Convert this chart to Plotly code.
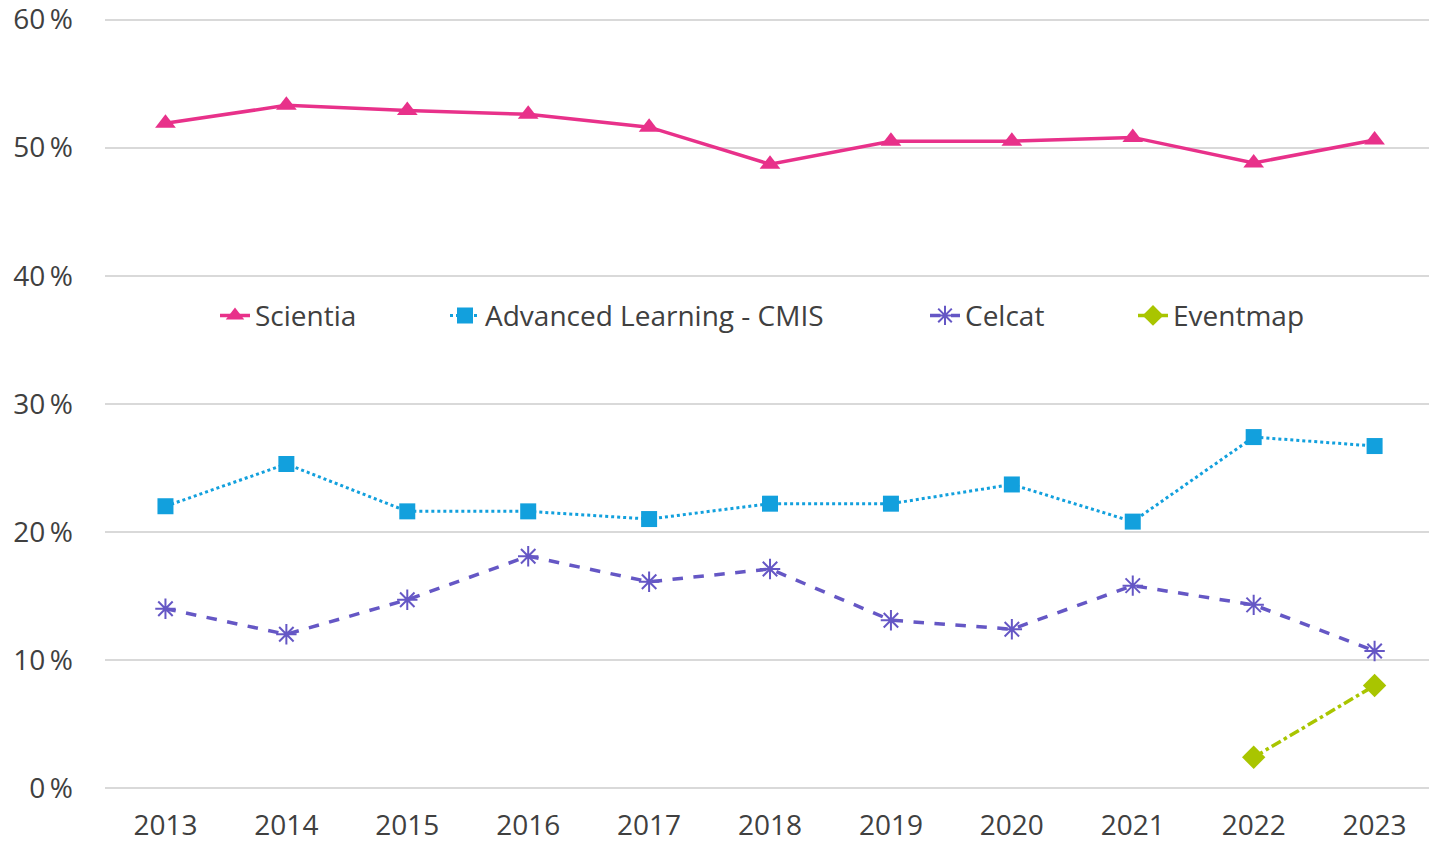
import plotly.graph_objects as go

years = ["2013", "2014", "2015", "2016", "2017", "2018", "2019", "2020", "2021", "2022", "2023"]
scientia = [51.9, 53.3, 52.9, 52.6, 51.6, 48.7, 50.5, 50.5, 50.8, 48.8, 50.6]
advanced = [22.0, 25.3, 21.6, 21.6, 21.0, 22.2, 22.2, 23.7, 20.8, 27.4, 26.7]
celcat = [14.0, 12.0, 14.7, 18.1, 16.1, 17.1, 13.1, 12.4, 15.8, 14.3, 10.7]
eventmap_years = ["2022", "2023"]
eventmap = [2.4, 8.0]
y_ticks = [0, 10, 20, 30, 40, 50, 60]
y_tick_labels = ["0\u2009%", "10\u2009%", "20\u2009%", "30\u2009%", "40\u2009%", "50\u2009%", "60\u2009%"]

FONT = "Open Sans"
TXT = "#404040"

W, H = 1429, 842
L, R, T, B = 105, 0, 17.4, 54
PW = W - L - R
PH = H - T - B

fig = go.Figure()
fig.add_trace(go.Scatter(
    x=years, y=scientia, name="Scientia", mode="lines+markers",
    line=dict(color="#E8318A", width=3.5),
    marker=dict(symbol="triangle-up", size=18, color="#E8318A"),
    legend="legend"))
fig.add_trace(go.Scatter(
    x=years, y=advanced, name="Advanced Learning - CMIS", mode="lines+markers",
    line=dict(color="#12A0DD", width=3, dash="dot"),
    marker=dict(symbol="square", size=16, color="#12A0DD"),
    legend="legend2"))
fig.add_trace(go.Scatter(
    x=years, y=celcat, name="Celcat", mode="lines+markers",
    line=dict(color="#6557C5", width=3.5, dash="dash"),
    marker=dict(symbol="asterisk-open", size=17, color="#6557C5",
                line=dict(color="#6557C5", width=2)),
    legend="legend3"))
fig.add_trace(go.Scatter(
    x=eventmap_years, y=eventmap, name="Eventmap", mode="lines+markers",
    line=dict(color="#A9C500", width=3.5, dash="dashdot"),
    marker=dict(symbol="diamond", size=18, color="#A9C500"),
    legend="legend4"))

def leg(xpx):
    return dict(x=(xpx - L) / PW, y=(H - B - 316) / PH, xanchor="left", yanchor="middle",
                xref="paper", yref="paper", orientation="h",
                font=dict(family=FONT, size=28, color=TXT), bgcolor="rgba(0,0,0,0)",
                itemwidth=30)

fig.update_layout(
    width=W, height=H,
    margin=dict(l=L, r=R, t=T, b=B, autoexpand=False),
    paper_bgcolor="white", plot_bgcolor="white",
    font=dict(family=FONT, size=28, color=TXT),
    showlegend=True,
    legend=leg(215),
    legend2=leg(445),
    legend3=leg(925),
    legend4=leg(1133),
    xaxis=dict(type="category", range=[-0.5, 10.45], showgrid=False, automargin=False,
               showline=False, zeroline=False, ticks="", ticklabelstandoff=18,
               tickfont=dict(family=FONT, size=28, color=TXT)),
    yaxis=dict(range=[0, 60.2], tickmode="array", tickvals=y_ticks, ticktext=y_tick_labels,
               automargin=False,
               showgrid=True, gridcolor="#D9D9D9", gridwidth=2,
               zeroline=True, zerolinecolor="#D9D9D9", zerolinewidth=2,
               showline=False, ticks="", ticklabelstandoff=31,
               ticklabeloverflow="allow",
               tickfont=dict(family=FONT, size=28, color=TXT)),
)

fig.write_html("out.html", config={"displayModeBar": False},
               post_script="document.body.style.margin='0';document.body.style.overflow='hidden';")
